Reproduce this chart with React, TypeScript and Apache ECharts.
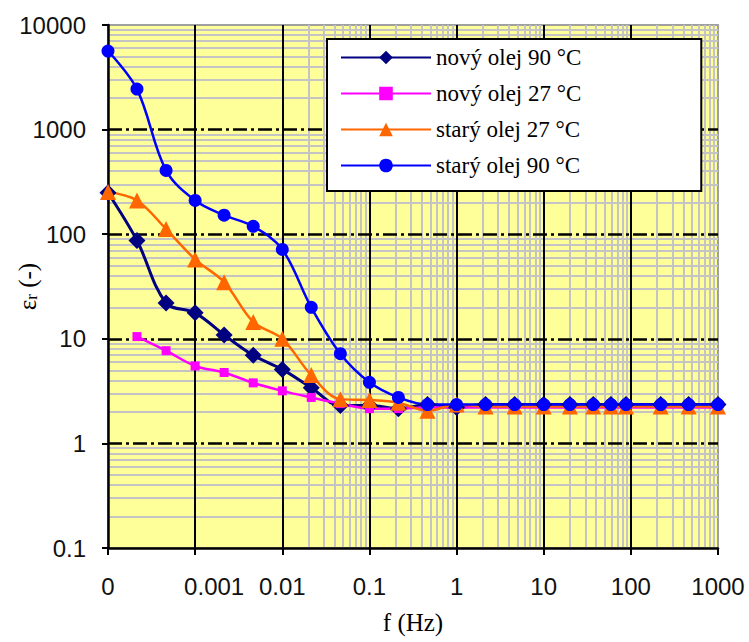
import React, { useEffect, useRef } from "react";
import * as echarts from "echarts";

// frequencies (Hz)
const freq = [0.0001, 0.000215, 0.000464, 0.001, 0.00215, 0.00464, 0.01, 0.0215, 0.0464, 0.1, 0.215, 0.464, 1, 2.15, 4.64, 10, 20, 37, 59, 88, 220, 460, 1000];

// permittivity values
const novy90 = [249, 87, 22, 17.7, 10.9, 6.95, 5.1, 3.4, 2.3, 2.3, 2.15, 2.35, 2.2, 2.35, 2.35, 2.35, 2.35, 2.35, 2.35, 2.35, 2.35, 2.35, 2.35];
const novy27 = [null, 10.5, 7.7, 5.5, 4.76, 3.79, 3.18, 2.75, 2.4, 2.15, 2.15, 2.2, 2.2, 2.2, 2.2, 2.2, 2.2, 2.2, 2.2, 2.2, 2.2, 2.2, 2.2];
const stary27 = [253, 210, 112, 57.4, 34.8, 14.5, 10, 4.5, 2.65, 2.6, 2.45, 2.05, 2.35, 2.25, 2.25, 2.25, 2.25, 2.25, 2.25, 2.25, 2.25, 2.25, 2.25];
const stary90 = [5640, 2440, 407, 210, 152, 119, 71.5, 20, 7.2, 3.84, 2.75, 2.35, 2.35, 2.35, 2.35, 2.35, 2.35, 2.35, 2.35, 2.35, 2.35, 2.35, 2.35];

const seriesNames = ["nový olej 90 °C", "nový olej 27 °C", "starý olej 27 °C", "starý olej 90 °C"];

// tick labels
const xTickValues = [0.0001, 0.001, 0.01, 0.1, 1, 10, 100, 1000];
const xTickLabels = ["0", "0.001", "0.01", "0.1", "1", "10", "100", "1000"];
const yTickValues = [0.1, 1, 10, 100, 1000, 10000];
const yTickLabels = ["0.1", "1", "10", "100", "1000", "10000"];

const minorMultipliers = [2, 3, 4, 5, 6, 7, 8, 9];

function toPairs(vals: (number | null)[]) {
  const out: [number, number][] = [];
  vals.forEach((v, i) => {
    if (v !== null) out.push([freq[i], v]);
  });
  return out;
}

function minorOf(ticks: number[]) {
  const out: number[] = [];
  for (let i = 0; i < ticks.length - 1; i++) {
    minorMultipliers.forEach((m) => out.push(+(ticks[i] * m).toPrecision(6)));
  }
  return out;
}

function labelFor(values: number[], labels: string[], v: number) {
  const e = Math.round(Math.log10(v));
  const idx = values.findIndex((t) => Math.round(Math.log10(t)) === e);
  return idx >= 0 ? labels[idx] : "";
}

export default function App() {
  const ref = useRef<HTMLDivElement>(null);

  useEffect(() => {
    if (!ref.current) return;
    const chart = echarts.init(ref.current, undefined, { renderer: "svg" });

    const sansFont = "'Liberation Sans', Arial, sans-serif";
    const serifFont = "'Liberation Serif', 'Times New Roman', serif";

    const minorX = minorOf(xTickValues);
    const minorY = minorOf(yTickValues);

    const common = {
      type: "line" as const,
      smooth: 0.35,
      z: 3,
      emphasis: { disabled: true },
    };

    chart.setOption({
      animation: false,
      backgroundColor: "#ffffff",
      grid: {
        left: 108,
        right: 31,
        top: 25,
        bottom: 94,
        show: true,
        backgroundColor: "#ffff99",
        borderColor: "#a0a0a0",
        borderWidth: 2,
        containLabel: false,
        outerBoundsMode: "none",
      },
      legend: {
        data: seriesNames,
        orient: "vertical",
        left: 327,
        top: 39,
        z: 10,
        backgroundColor: "#ffffff",
        borderColor: "#000000",
        borderWidth: 2,
        padding: [7, 120, 14, 13],
        itemWidth: 90,
        itemHeight: 17,
        itemGap: 13,
        selectedMode: false,
        textStyle: {
          fontFamily: serifFont,
          fontSize: 23,
          lineHeight: 23,
          color: "#000",
        },
      },
      xAxis: {
        type: "log",
        logBase: 10,
        min: 0.0001,
        max: 1000,
        splitNumber: 7,
        z: 2,
        name: "f (Hz)",
        nameLocation: "middle",
        nameGap: 62,
        nameTextStyle: { fontFamily: serifFont, fontSize: 25, color: "#000" },
        axisLine: { show: true, lineStyle: { color: "#000", width: 2.5 } },
        axisTick: { show: true, inside: false, length: 7, lineStyle: { color: "#000", width: 2 } },
        axisLabel: {
          margin: 26,
          fontFamily: sansFont,
          fontSize: 24,
          color: "#111",
          formatter: (v: number) => {
            const s = labelFor(xTickValues, xTickLabels, v);
            return s === "0.001" ? "{shift|" + s + "}" : s;
          },
          rich: {
            shift: { fontFamily: sansFont, fontSize: 24, color: "#111", padding: [0, 0, 0, 38] },
          },
        },
        splitLine: {
          show: true,
          showMinLine: false,
          showMaxLine: false,
          lineStyle: { color: "#000", width: 2, type: "solid" },
        },
      },
      yAxis: {
        type: "log",
        logBase: 10,
        min: 0.1,
        max: 10000,
        splitNumber: 5,
        z: 2,
        name: "ε{sub|r} (-)",
        nameLocation: "middle",
        nameRotate: 90,
        nameGap: 68,
        nameMoveOverlap: false,
        nameTextStyle: {
          fontFamily: serifFont,
          fontSize: 25,
          color: "#000",
          rich: {
            sub: { fontFamily: serifFont, fontSize: 17, color: "#000", verticalAlign: "bottom", padding: [8, 0, 0, 0] },
          },
        },
        axisLine: { show: true, lineStyle: { color: "#000", width: 2.5 } },
        axisTick: { show: true, inside: false, length: 6, lineStyle: { color: "#000", width: 2 } },
        axisLabel: {
          margin: 22,
          fontFamily: sansFont,
          fontSize: 24,
          color: "#111",
          formatter: (v: number) => labelFor(yTickValues, yTickLabels, v),
        },
        splitLine: {
          show: true,
          showMinLine: false,
          showMaxLine: false,
          lineStyle: { color: "#000", width: 2.5, type: [14, 4, 3, 4] },
        },
      },
      series: [
        {
          ...common,
          name: seriesNames[0],
          data: toPairs(novy90),
          symbol: "diamond",
          symbolSize: 17,
          itemStyle: { color: "#000080" },
          lineStyle: { color: "#000080", width: 3 },
          markLine: {
            silent: true,
            z: 1,
            symbol: ["none", "none"],
            label: { show: false },
            emphasis: { disabled: true },
            lineStyle: { color: "#c4c4c4", width: 2, type: "solid" },
            data: [
              ...minorX.map((v) => ({ xAxis: v })),
              ...minorY.map((v) => ({ yAxis: v })),
            ],
          },
        },
        {
          ...common,
          name: seriesNames[1],
          data: toPairs(novy27),
          symbol: "rect",
          symbolSize: 9,
          itemStyle: { color: "#ff00ff" },
          lineStyle: { color: "#ff00ff", width: 2.5 },
        },
        {
          ...common,
          name: seriesNames[2],
          data: toPairs(stary27),
          symbol: "triangle",
          symbolSize: 16,
          itemStyle: { color: "#ff6600" },
          lineStyle: { color: "#ff6600", width: 2.5 },
        },
        {
          ...common,
          name: seriesNames[3],
          data: toPairs(stary90),
          symbol: "circle",
          symbolSize: 13,
          itemStyle: { color: "#0000ff" },
          lineStyle: { color: "#0000ff", width: 2.5 },
        },
      ],
    });

    return () => chart.dispose();
  }, []);

  return (
    <div
      ref={ref}
      style={{ position: "fixed", left: 0, top: 0, width: 749, height: 642, background: "#fff" }}
    />
  );
}
